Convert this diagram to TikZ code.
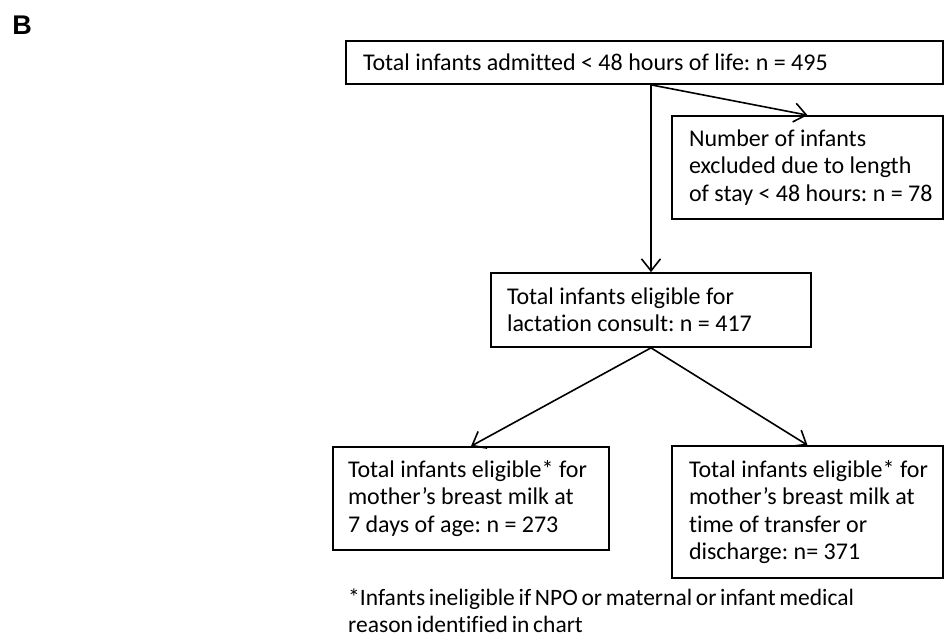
\documentclass[tikz,border=0pt]{standalone}
\usepackage{fontspec}
\setmainfont{Carlito}[WordSpace=1.0, Ligatures=NoCommon]
\newfontfamily\notefont{Carlito}[WordSpace=0.7, Ligatures=NoCommon]
\newfontfamily\labelfont{Liberation Sans}
\usetikzlibrary{arrows.meta}
\frenchspacing
\tikzset{
  flowbox/.style={draw=black, line width=1.7pt, rectangle, inner xsep=17pt, inner ysep=0pt,
    align=flush left, font=\fontsize{24}{27.5}\selectfont},
  flowarrow/.style={draw=black, line width=1.6pt, -{Straight Barb[length=12pt,width=19pt,line width=1.6pt]}},
  notetext/.style={inner sep=0pt, align=left, font=\notefont\fontsize{23.5}{26.5}\selectfont}
}
\begin{document}
\begin{tikzpicture}[x=1pt,y=-1pt]
\useasboundingbox[fill=white] (0,0) rectangle (944,640);
\node[font=\labelfont\bfseries\fontsize{27}{30}\selectfont, inner sep=0pt] (lbl) at (22,25) {B};
\node[flowbox, minimum width=597pt, minimum height=43pt, text width=563pt] (top) at (644.5,62.5)
  {Total infants admitted < 48 hours of life: n = 495};
\node[flowbox, minimum width=271pt, minimum height=103pt, text width=237pt] (excl) at (807.5,167.5)
  {\mbox{Number of infants}\\\mbox{excluded due to length}\\\mbox{of stay < 48 hours: n = 78}};
\node[flowbox, minimum width=320pt, minimum height=74pt, text width=288pt, inner xsep=16pt] (mid) at (651,310)
  {\mbox{Total infants eligible for}\\\mbox{lactation consult: n = 417}};
\node[flowbox, minimum width=276pt, minimum height=103pt, text width=246pt, inner xsep=15pt] (left) at (471,498.5)
  {\mbox{Total infants eligible* for}\\\mbox{mother’s breast milk at}\\\mbox{7 days of age: n = 273}};
\node[flowbox, minimum width=271pt, minimum height=132pt, text width=237pt] (right) at (807.5,512)
  {\mbox{Total infants eligible* for}\\\mbox{mother’s breast milk at}\\\mbox{time of transfer or}\\\mbox{discharge: n= 371}};
\node[notetext, anchor=north west] (note) at (348,589)
  {*Infants ineligible if NPO or maternal or infant medical\\reason identified in chart};
\coordinate (split) at (mid.north |- top.south);
\draw[flowarrow] (split) -- (mid.north);
\draw[flowarrow] (split) -- (excl.north);
\draw[flowarrow] (mid.south) -- (left.north);
\draw[flowarrow] (mid.south) -- (right.north);
\end{tikzpicture}
\end{document}
